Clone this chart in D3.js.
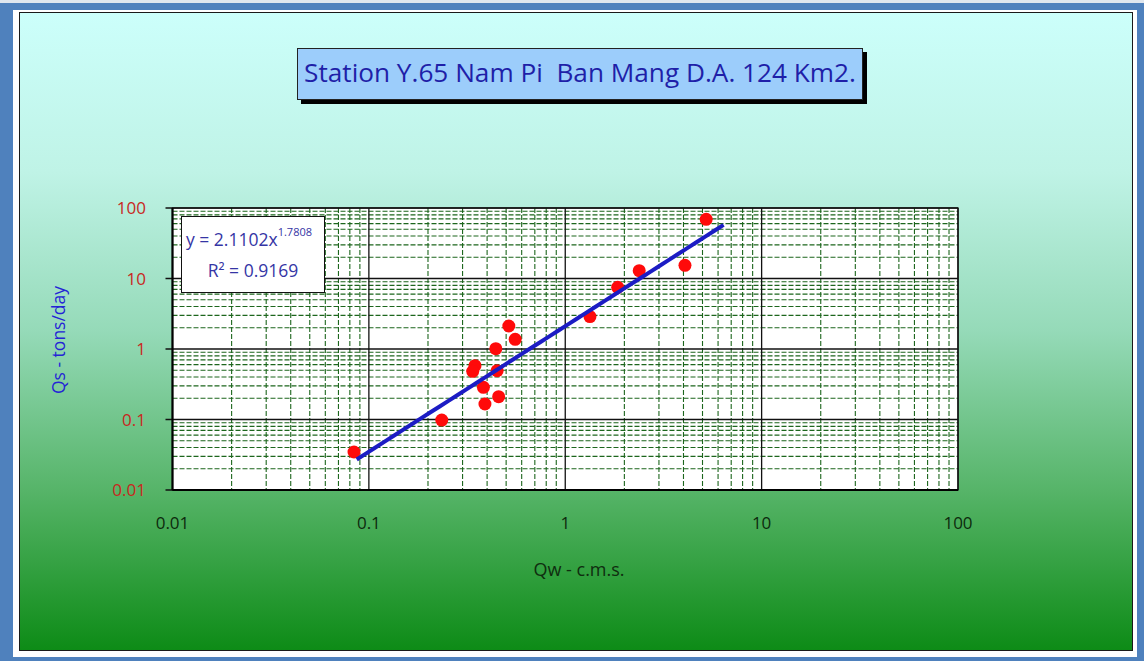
<!DOCTYPE html>
<html>
<head>
<meta charset="utf-8">
<script src="https://cdn.jsdelivr.net/npm/d3@7"></script>
<style>
  body { margin: 0; background: #fff; }
  svg { display: block; }
  text { font-family: "Open Sans", "Noto Sans", sans-serif; }
</style>
</head>
<body>
<div id="chart"></div>
<script>
// discharge (c.m.s.) vs sediment load (tons/day)
const qw = [0.084, 0.235, 0.347, 0.338, 0.383, 0.39, 0.458, 0.45, 0.443, 0.516, 0.556, 1.336, 1.85, 2.38, 4.07, 5.22];
const qs = [0.0346, 0.098, 0.58, 0.483, 0.286, 0.166, 0.211, 0.493, 1.01, 2.12, 1.37, 2.88, 7.5, 12.9, 15.4, 69];
const trendRange = [0.0867, 6.4];
const coefA = 2.1102;
const coefB = 1.7808;
const rSquared = "0.9169";
const xTicks = [0.01, 0.1, 1, 10, 100];
const xTickLabels = ["0.01", "0.1", "1", "10", "100"];
const yTicks = [0.01, 0.1, 1, 10, 100];
const yTickLabels = ["0.01", "0.1", "1", "10", "100"];
const titleText = "Station Y.65 Nam Pi  Ban Mang D.A. 124 Km2.";
const xTitle = "Qw - c.m.s.";
const yTitle = "Qs - tons/day";

const W = 1144, H = 661;
const plot = { left: 172.5, right: 958, top: 208, bottom: 490 };

const svg = d3.select("#chart").append("svg").attr("width", W).attr("height", H);

const defs = svg.append("defs");
const grad = defs.append("linearGradient").attr("id", "bg").attr("x1", 0).attr("y1", 0).attr("x2", 0).attr("y2", 1);
[[0, "#ccfffb"], [0.25, "#bff3e6"], [0.5, "#95dab8"], [0.75, "#56b468"], [1, "#0d8b16"]].forEach(([o, c]) =>
  grad.append("stop").attr("offset", o).attr("stop-color", c));

// window frame + sheet strip
svg.append("rect").attr("width", W).attr("height", H).attr("fill", "#4f81bd");
svg.append("rect").attr("width", W).attr("height", 3).attr("fill", "#dfe6ee");
svg.append("rect").attr("x", 13).attr("y", 10).attr("width", 1124).attr("height", 647).attr("fill", "#ffffff");

// chart area
svg.append("rect")
  .attr("x", 19.5).attr("y", 12.5).attr("width", 1113).attr("height", 638)
  .attr("fill", "url(#bg)").attr("stroke", "#1a1a1a").attr("stroke-width", 1);

const x = d3.scaleLog().domain([0.01, 100]).range([plot.left, plot.right]);
const y = d3.scaleLog().domain([0.01, 100]).range([plot.bottom, plot.top]);

const g = svg.append("g");
g.append("rect")
  .attr("x", plot.left).attr("y", plot.top)
  .attr("width", plot.right - plot.left).attr("height", plot.bottom - plot.top)
  .attr("fill", "#ffffff");

const minors = [];
xTicks.slice(0, -1).forEach((d) => { for (let k = 2; k <= 9; k++) minors.push(d * k); });

// minor grid: dashed green
g.selectAll(".vminor").data(minors).enter().append("line")
  .attr("x1", (d) => x(d)).attr("x2", (d) => x(d))
  .attr("y1", plot.top).attr("y2", plot.bottom)
  .attr("stroke", "#1d661d").attr("stroke-width", 1.1).attr("stroke-dasharray", "5,2");
g.selectAll(".hminor").data(minors).enter().append("line")
  .attr("y1", (d) => y(d)).attr("y2", (d) => y(d))
  .attr("x1", plot.left).attr("x2", plot.right)
  .attr("stroke", "#1d661d").attr("stroke-width", 1.1).attr("stroke-dasharray", "5,2");

// major grid: solid black
g.selectAll(".vmajor").data(xTicks).enter().append("line")
  .attr("x1", (d) => x(d)).attr("x2", (d) => x(d))
  .attr("y1", plot.top).attr("y2", plot.bottom)
  .attr("stroke", "#111").attr("stroke-width", 1.3);
g.selectAll(".hmajor").data(yTicks).enter().append("line")
  .attr("y1", (d) => y(d)).attr("y2", (d) => y(d))
  .attr("x1", plot.left - 7).attr("x2", plot.right)
  .attr("stroke", "#111").attr("stroke-width", 1.3);

g.append("rect")
  .attr("x", plot.left).attr("y", plot.top)
  .attr("width", plot.right - plot.left).attr("height", plot.bottom - plot.top)
  .attr("fill", "none").attr("stroke", "#111").attr("stroke-width", 1.3);
g.append("line")
  .attr("x1", plot.left).attr("x2", plot.left).attr("y1", plot.top).attr("y2", plot.bottom)
  .attr("stroke", "#000").attr("stroke-width", 2);
g.append("line")
  .attr("x1", plot.left).attr("x2", plot.right).attr("y1", plot.bottom).attr("y2", plot.bottom)
  .attr("stroke", "#000").attr("stroke-width", 2);

// tick labels
svg.selectAll(".ylab").data(yTicks).enter().append("text")
  .attr("x", 146).attr("y", (d) => y(d) + 6)
  .attr("text-anchor", "end").style("font-size", "17px").style("fill", "#c8281e")
  .text((d, i) => yTickLabels[i]);
svg.selectAll(".xlab").data(xTicks).enter().append("text")
  .attr("x", (d) => x(d)).attr("y", 529)
  .attr("text-anchor", "middle").style("font-size", "17px").style("fill", "#0d2a0d")
  .text((d, i) => xTickLabels[i]);

// axis titles
svg.append("text")
  .attr("transform", "translate(65,340) rotate(-90)")
  .attr("text-anchor", "middle").style("font-size", "17.5px").style("fill", "#2424d6")
  .text(yTitle);
svg.append("text")
  .attr("x", 579).attr("y", 576)
  .attr("text-anchor", "middle").style("font-size", "18px").style("fill", "#0f2d0f")
  .text(xTitle);

// points
g.selectAll(".dot").data(qw).enter().append("circle")
  .attr("cx", (d) => x(d)).attr("cy", (d, i) => y(qs[i]))
  .attr("r", 6.5).attr("fill", "#ff0a0a");

// power trendline
const trendPts = d3.range(0, 41).map((i) => {
  const lx = Math.log10(trendRange[0]) + (Math.log10(trendRange[1]) - Math.log10(trendRange[0])) * i / 40;
  const v = Math.pow(10, lx);
  return [v, coefA * Math.pow(v, coefB)];
});
g.append("path")
  .datum(trendPts)
  .attr("fill", "none").attr("stroke", "#1c1cc4").attr("stroke-width", 4)
  .attr("d", d3.line().x((d) => x(d[0])).y((d) => y(d[1])));

// equation box
const eq = svg.append("g");
eq.append("rect").attr("x", 181.5).attr("y", 216.5).attr("width", 143).attr("height", 76)
  .attr("fill", "#fff").attr("stroke", "#111").attr("stroke-width", 1);
const eqText = eq.append("text").attr("x", 186).attr("y", 246).style("font-size", "17.5px").style("fill", "#3535a5");
eqText.append("tspan").text(`y = ${coefA}x`);
eqText.append("tspan").attr("dy", -10).style("font-size", "11px").text(coefB);
eq.append("text").attr("x", 253).attr("y", 277).attr("text-anchor", "middle")
  .style("font-size", "17.5px").style("fill", "#3535a5").text(`R² = ${rSquared}`);

// title box
const tb = svg.append("g");
tb.append("rect").attr("x", 301).attr("y", 52).attr("width", 566).attr("height", 52).attr("fill", "#000");
tb.append("rect").attr("x", 297.5).attr("y", 48.5).attr("width", 565).attr("height", 51)
  .attr("fill", "#9ccdfb").attr("stroke", "#222").attr("stroke-width", 1);
const tt = tb.append("text").attr("x", 580).attr("y", 82).attr("text-anchor", "middle")
  .attr("xml:space", "preserve").style("white-space", "pre")
  .style("font-size", "24px").style("fill", "#1f1fa8").text(titleText);
const tw = tt.node().getComputedTextLength();
tt.style("font-size", (24 * 552 / tw).toFixed(2) + "px");
</script>
</body>
</html>
